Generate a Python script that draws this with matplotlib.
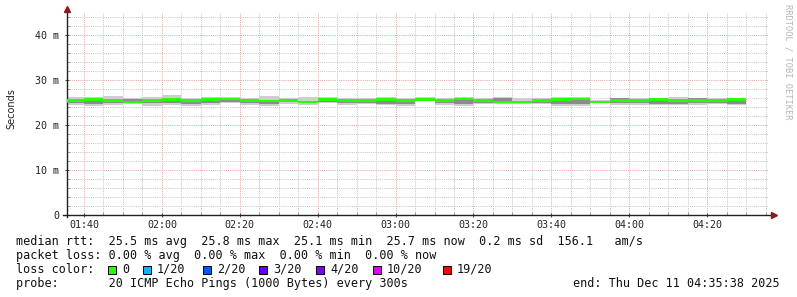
import matplotlib
matplotlib.use("Agg")
import matplotlib.pyplot as plt
from matplotlib.patches import Rectangle
from matplotlib.ticker import MultipleLocator, FuncFormatter

# 5 minute bins, end time of each bin
bin_ends = ["01:40", "01:45", "01:50", "01:55", "02:00", "02:05", "02:10",
            "02:15", "02:20", "02:25", "02:30", "02:35", "02:40", "02:45",
            "02:50", "02:55", "03:00", "03:05", "03:10", "03:15", "03:20",
            "03:25", "03:30", "03:35", "03:40", "03:45", "03:50", "03:55",
            "04:00", "04:05", "04:10", "04:15", "04:20", "04:25", "04:30"]

# median rtt (ms) per bin
median = [25.5, 25.7, 25.5, 25.1, 25.4, 25.6, 25.5, 25.7, 25.8, 25.5,
          25.3, 25.4, 25.1, 25.6, 25.5, 25.5, 25.6, 25.5, 25.7, 25.5,
          25.8, 25.5, 25.1, 25.1, 25.4, 25.7, 25.8, 25.1, 25.5, 25.5,
          25.6, 25.5, 25.4, 25.4, 25.7]
# smoke: min / lower quartile / upper quartile / max of the 20 pings
rtt_min = [24.4, 24.2, 24.5, 24.6, 24.3, 24.4, 24.3, 24.5, 24.8, 24.5,
           24.3, 24.6, 24.5, 24.8, 24.4, 24.6, 24.5, 24.3, 25.4, 24.5,
           24.3, 24.6, 24.6, 24.6, 24.6, 24.3, 24.3, 24.9, 24.5, 24.5,
           24.4, 24.4, 24.4, 24.6, 24.5]
rtt_q1 = [24.9, 24.6, 24.9, 24.9, 24.8, 24.8, 24.6, 24.9, 25.2, 24.9,
          24.7, 25.0, 24.8, 25.1, 24.8, 24.9, 24.7, 24.7, 25.6, 24.9,
          24.7, 24.9, 24.9, 24.8, 24.9, 24.7, 24.6, 25.0, 24.8, 24.8,
          24.7, 24.7, 24.8, 24.9, 24.7]
rtt_q3 = [25.7, 25.8, 25.8, 25.8, 25.6, 25.9, 25.3, 25.9, 25.9, 25.6,
          25.6, 25.8, 25.4, 25.8, 25.4, 25.7, 25.6, 25.4, 26.0, 25.6,
          25.9, 25.7, 25.9, 25.2, 25.7, 25.8, 25.9, 25.3, 26.0, 25.7,
          25.7, 25.8, 25.9, 25.5, 25.9]
rtt_max = [26.2, 26.2, 26.4, 26.1, 26.2, 26.7, 26.0, 26.3, 26.2, 26.0,
           26.4, 26.0, 26.2, 26.2, 26.0, 26.0, 26.3, 26.0, 26.3, 26.0,
           26.2, 26.0, 26.3, 26.1, 26.0, 26.2, 26.2, 25.6, 26.1, 26.0,
           26.1, 26.2, 26.1, 25.9, 26.0]

loss_labels = ["0", "1/20", "2/20", "3/20", "4/20", "10/20", "19/20"]
loss_colors = ["#26ff00", "#00b8ff", "#0059ff", "#5e00ff", "#7e00ff", "#dd00ff", "#ff0000"]

rtt_line = "median rtt:  25.5 ms avg  25.8 ms max  25.1 ms min  25.7 ms now  0.2 ms sd  156.1   am/s"
loss_line = "packet loss: 0.00 % avg  0.00 % max  0.00 % min  0.00 % now"
probe_line = "probe:       20 ICMP Echo Pings (1000 Bytes) every 300s"
end_line = "end: Thu Dec 11 04:35:38 2025"


def hm(s):
    h, m = s.split(":")
    return int(h) * 60 + int(m)


ends = [hm(s) for s in bin_ends]
edges = [ends[0] - 5] + ends
t_end = hm("04:35") + 38 / 60.0
t_start = t_end - 180

mono = "DejaVu Sans Mono"
W, H = 797, 297
fig = plt.figure(figsize=(W / 100, H / 100), dpi=100)
ax = fig.add_axes([67 / W, 82 / H, 701 / W, 201.6 / H])
ax.set_xlim(t_start, t_end)
ax.set_ylim(0, 44.8)

# smoke
ax.stairs(rtt_max, edges, baseline=rtt_min, fill=True, color="#cecece", lw=0, zorder=2)
ax.stairs(rtt_q3, edges, baseline=rtt_q1, fill=True, color="#8c8c8c", lw=0, zorder=3)
# median band
med_lo = [m - 0.3 for m in median]
med_hi = [m + 0.3 for m in median]
ax.stairs(med_hi, edges, baseline=med_lo, fill=True, color=loss_colors[0], lw=0, zorder=4)

# grid
ax.xaxis.set_major_locator(MultipleLocator(20))
ax.xaxis.set_minor_locator(MultipleLocator(5))
ax.yaxis.set_major_locator(MultipleLocator(10))
ax.yaxis.set_minor_locator(MultipleLocator(2))
ax.set_axisbelow(True)
ax.grid(which="minor", color="#c4c4c4", ls=(0, (1, 1.2)), lw=0.7)
ax.grid(which="major", color="#e4a0a0", ls=(0, (1, 1.2)), lw=0.7)

ax.xaxis.set_major_formatter(FuncFormatter(lambda v, p: "%02d:%02d" % (int(v) // 60, int(v) % 60)))
ax.yaxis.set_major_formatter(FuncFormatter(lambda v, p: "0" if v == 0 else "%d m" % v))
ax.tick_params(which="major", length=3, direction="inout", color="#505050", labelsize=7.2,
               labelcolor="#222222", pad=2)
ax.tick_params(which="minor", length=2, direction="in", color="#909090")
for lab in ax.get_xticklabels() + ax.get_yticklabels():
    lab.set_family(mono)
ax.tick_params(axis="y", pad=4)

for s in ax.spines.values():
    s.set_visible(False)
ax.plot([-0.006, 1.006], [0, 0], transform=ax.transAxes, color="#202020", lw=1, clip_on=False)
ax.plot([0, 0], [-0.01, 1.02], transform=ax.transAxes, color="#202020", lw=1, clip_on=False)
ax.plot(1.008, 0, marker=">", ms=4, color="#8b1a1a", transform=ax.transAxes, clip_on=False)
ax.plot(0, 1.02, marker="^", ms=4, color="#8b1a1a", transform=ax.transAxes, clip_on=False)

fig.text(11 / W, 1 - 109 / H, "Seconds", rotation=90, ha="center", va="center",
         fontsize=7, color="#222222")
fig.text(788 / W, 1 - 4 / H, "RRDTOOL / TOBI OETIKER", rotation=270, ha="center", va="top",
         fontsize=6.2, family=mono, color="#b4b4b4")

# legend rows
fs = 8.5
fig.text(16 / W, 1 - 241 / H, rtt_line, family=mono, fontsize=fs, va="center", color="#111111")
fig.text(16 / W, 1 - 255.3 / H, loss_line, family=mono, fontsize=fs, va="center", color="#111111")
fig.text(16 / W, 1 - 269.3 / H, "loss color:", family=mono, fontsize=fs, va="center", color="#111111")
fig.text(16 / W, 1 - 283.7 / H, probe_line, family=mono, fontsize=fs, va="center", color="#111111")
fig.text(780 / W, 1 - 283.7 / H, end_line, family=mono, fontsize=fs, va="center", ha="right",
         color="#111111")

text_x = [122, 157, 217, 273, 330, 387, 457]
for lab, col, tx in zip(loss_labels, loss_colors, text_x):
    fig.patches.append(Rectangle(((tx - 14) / W, 1 - 273.5 / H), 8 / W, 8 / H, transform=fig.transFigure,
                                 facecolor=col, edgecolor="black", lw=0.7))
    fig.text(tx / W, 1 - 269.3 / H, lab, family=mono, fontsize=fs, va="center", color="#111111")

fig.savefig("out.png", dpi=100, facecolor="white")
